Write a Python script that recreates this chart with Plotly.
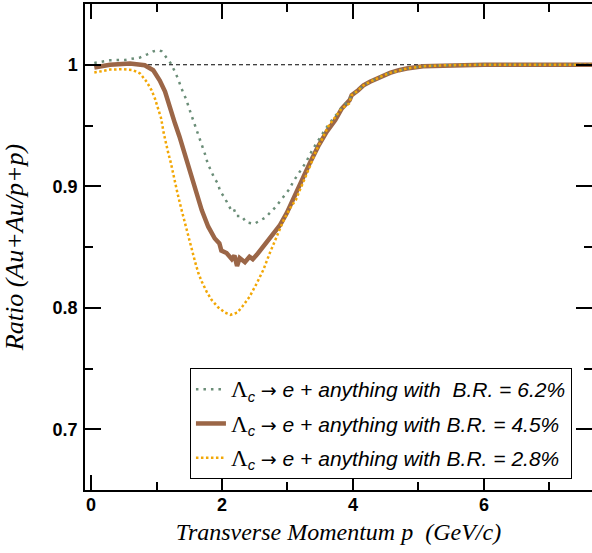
import plotly.graph_objects as go

# ---------------- data ----------------
# B.R. = 6.2 %  (grey-green dotted)
x_br62 = [0.05, 0.29, 0.52, 0.75, 0.86, 0.95, 1.03, 1.08, 1.145, 1.22, 1.27, 1.32, 1.40, 1.45,
          1.52, 1.56, 1.60, 1.64, 1.67, 1.71, 1.75, 1.78, 1.83, 1.88, 1.94, 1.97, 2.03, 2.09,
          2.14, 2.18, 2.22, 2.30, 2.37, 2.49, 2.59, 2.67, 2.74, 2.82, 2.89, 2.96, 3.03, 3.09,
          3.21, 3.28, 3.38, 3.44, 3.51, 3.57, 3.64, 3.70, 3.78, 3.84, 3.93]
y_br62 = [1.0015, 1.0037, 1.004, 1.006, 1.0086, 1.011, 1.012, 1.011, 1.0064, 1.001, 0.9955,
          0.9895, 0.978, 0.972, 0.9606, 0.9546, 0.9486, 0.9428, 0.9367, 0.9307, 0.925, 0.919,
          0.913, 0.907, 0.902, 0.896, 0.8915, 0.886, 0.8804, 0.8815, 0.8755, 0.8755, 0.8703,
          0.869, 0.872, 0.8745, 0.8786, 0.883, 0.888, 0.893, 0.8977, 0.904, 0.914, 0.9195,
          0.930, 0.9356, 0.941, 0.9463, 0.952, 0.956, 0.961, 0.966, 0.9696]

# B.R. = 4.5 %  (brown solid)
x_br45 = [0.05, 0.29, 0.595, 0.82, 0.95, 1.05, 1.13, 1.206, 1.28, 1.35, 1.41, 1.47, 1.54,
          1.60, 1.65, 1.69, 1.79, 1.89, 1.96, 1.99, 2.07, 2.15, 2.19, 2.23, 2.27, 2.35, 2.42,
          2.47, 2.53, 2.61, 2.68, 2.78, 2.885, 2.99, 3.09, 3.20, 3.34, 3.47, 3.60, 3.73, 3.83,
          3.95]
y_br45 = [0.9977, 1.0, 1.001, 0.9996, 0.9955, 0.987, 0.978, 0.964, 0.952, 0.941, 0.930,
          0.919, 0.908, 0.897, 0.889, 0.8804, 0.8667, 0.857, 0.853, 0.847, 0.845, 0.840,
          0.843, 0.8344, 0.841, 0.8375, 0.842, 0.840, 0.8435, 0.849, 0.853, 0.860, 0.868,
          0.878, 0.890, 0.903, 0.919, 0.933, 0.945, 0.9546, 0.964, 0.971]

# B.R. = 2.8 %  (orange dotted)
x_br28 = [0.05, 0.29, 0.49, 0.645, 0.75, 0.85, 0.925, 0.977, 1.03, 1.07, 1.11, 1.14, 1.18,
          1.22, 1.25, 1.28, 1.32, 1.385, 1.435, 1.485, 1.537, 1.588, 1.64, 1.69, 1.765, 1.84,
          1.944, 2.046, 2.13, 2.18, 2.233, 2.32, 2.42, 2.53, 2.63, 2.73, 2.835, 2.94, 3.04,
          3.13, 3.19, 3.27, 3.34, 3.41, 3.47, 3.55, 3.62, 3.73, 3.83, 3.94]
y_br28 = [0.9936, 0.996, 0.9963, 0.9955, 0.9928, 0.9859, 0.979, 0.972, 0.9628, 0.956, 0.9437,
          0.9354, 0.9272, 0.919, 0.911, 0.904, 0.8943, 0.880, 0.869, 0.8585, 0.8476, 0.838,
          0.8284, 0.8216, 0.8133, 0.8065, 0.8002, 0.796, 0.7942, 0.795, 0.796, 0.8016, 0.809,
          0.820, 0.831, 0.845, 0.8585, 0.872, 0.882, 0.889, 0.897, 0.9066, 0.916, 0.9258,
          0.933, 0.941, 0.949, 0.957, 0.964, 0.968]

# common high-pT tail shared by all three curves
x_tail = [3.98, 4.08, 4.16, 4.26, 4.36, 4.46, 4.565, 4.70, 4.82, 5.07, 5.43, 6.0, 7.7]
y_tail = [0.975, 0.979, 0.983, 0.986, 0.9887, 0.991, 0.9933, 0.9955, 0.9969, 0.9988,
          0.9996, 1.0, 1.0]

labels = ["6.2%", "4.5%", "2.8%"]
reference_ratio = 1.0

# ---------------- styling ----------------
C_GREEN = "#6a8d77"
C_BROWN = "#9b6647"
C_ORANGE = "#f2a705"
SERIF = "Liberation Serif, Times New Roman, serif"
SANS = "Liberation Sans, Arial, Helvetica, sans-serif"


def leg(br, gap=" "):
    return ('<span style="font-family:Liberation Serif;font-size:23px">Λ</span>'
            '<sub><i>c</i></sub> '
            '<span style="font-family:DejaVu Sans;font-size:19px">→</span>'
            ' <i>e + anything with' + gap + 'B.R. = ' + br + '</i>')


fig = go.Figure()

fig.add_trace(go.Scatter(
    x=x_br45 + x_tail, y=y_br45 + y_tail, mode="lines", name=leg(labels[1]),
    line=dict(color=C_BROWN, width=4.5), legendrank=2, legendgroup="b"))
fig.add_trace(go.Scatter(
    x=x_br62 + x_tail, y=y_br62 + y_tail, mode="lines", name=leg(labels[0], "\u00a0 "),
    line=dict(color=C_GREEN, width=2.5, dash="2.5px,5px"), legendrank=1, legendgroup="g"))
fig.add_trace(go.Scatter(
    x=x_br28 + x_tail, y=y_br28 + y_tail, mode="lines", name=leg(labels[2]),
    line=dict(color=C_ORANGE, width=2.5, dash="2.5px,2.5px"), legendrank=3, legendgroup="o"))

fig.add_hline(y=reference_ratio, line=dict(color="black", width=1, dash="4px,3px"),
              layer="below")

axis_common = dict(
    showline=True, linecolor="black", linewidth=1.5, mirror="ticks",
    ticks="inside", tickcolor="black", tickwidth=1.5,
    showgrid=False, zeroline=False, automargin=False,
    tickfont=dict(family=SANS, size=18, color="black", weight="bold"),
)

fig.update_xaxes(
    range=[-0.092, 7.65], tick0=0, dtick=2, ticklen=15,
    minor=dict(dtick=1, ticklen=8, ticks="inside", tickcolor="black", tickwidth=1.5),
    ticklabelstandoff=-2,
    title=dict(text="Transverse Momentum <i>p</i>  (GeV/c)", standoff=9,
               font=dict(family=SERIF, size=24, color="black", style="italic")),
    **axis_common)

fig.update_yaxes(
    range=[0.65, 1.05], tick0=0.7, dtick=0.1, ticklen=16,
    minor=dict(dtick=0.05, ticklen=8, ticks="inside", tickcolor="black", tickwidth=1.5),
    ticklabelstandoff=2,
    title=dict(text="<i>Ratio</i> (Au+Au/<i>p</i>+<i>p</i>)", standoff=22,
               font=dict(family=SERIF, size=26, color="black", style="italic")),
    **axis_common)

fig.update_layout(
    width=592, height=553,
    margin=dict(l=85, r=0, t=4, b=63),
    paper_bgcolor="white", plot_bgcolor="white",
    showlegend=True,
    legend=dict(
        x=0.207, y=0.251, xanchor="left", yanchor="top",
        bgcolor="white", bordercolor="black", borderwidth=1,
        font=dict(family=SANS, size=21, color="black"),
        tracegroupgap=4, traceorder="grouped",
    ),
)

page_fix = ("document.documentElement.style.overflow='hidden';"
            "document.body.style.margin='0';document.body.style.overflow='hidden';")

fig.write_html("out.html", post_script=page_fix, config={"displayModeBar": False})
